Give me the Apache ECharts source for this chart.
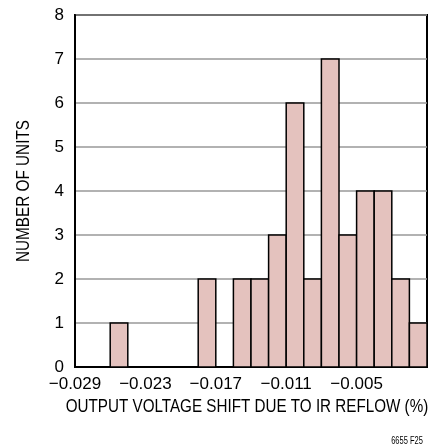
<!DOCTYPE html>
<html>
<head>
<meta charset="utf-8">
<script src="https://cdn.jsdelivr.net/npm/echarts@6/dist/echarts.min.js"></script>
<style>
  html, body { margin: 0; padding: 0; background: #fff; }
  #chart { width: 437px; height: 445px; }
</style>
</head>
<body>
<div id="chart"></div>
<script>
// histogram bins (lower edge, width 0.0015) and counts
var binStarts = [-0.029, -0.0275, -0.026, -0.0245, -0.023, -0.0215, -0.020, -0.0185, -0.017, -0.0155,
                 -0.014, -0.0125, -0.011, -0.0095, -0.008, -0.0065, -0.005, -0.0035, -0.002, -0.0005]
var binWidth = 0.0015
var counts = [0, 0, 1, 0, 0, 0, 0, 2, 0, 2, 2, 3, 6, 2, 7, 3, 4, 4, 2, 1]
var xTickValues = [-0.029, -0.023, -0.017, -0.011, -0.005]
var xTickLabels = ['\u22120.029', '\u22120.023', '\u22120.017', '\u22120.011', '\u22120.005']

var font = '"Liberation Sans", Arial, sans-serif'

var data = []
binStarts.forEach(function (x, i) {
    if (counts[i] > 0) data.push([x, x + binWidth, counts[i]])
})

var myChart = echarts.init(document.getElementById('chart'))
var options = {
    animation: false,
    grid: {
        left: 75, right: 10, top: 15, bottom: 78,
        outerBoundsMode: 'none',
        show: true, borderColor: '#000', borderWidth: 2
    },
    xAxis: {
        type: 'value',
        min: -0.029,
        max: 0.001,
        axisLine: { onZero: false, lineStyle: { color: '#000', width: 2 } },
        axisTick: { show: false },
        splitLine: { show: false },
        axisLabel: {
            customValues: xTickValues,
            fontFamily: font, fontSize: 17, color: '#000', margin: 9,
            formatter: function (v) {
                var i = xTickValues.findIndex(function (t) { return Math.abs(t - v) < 1e-9 })
                return i >= 0 ? xTickLabels[i] : ''
            }
        }
    },
    yAxis: {
        type: 'value',
        min: 0,
        max: 8,
        interval: 1,
        axisLine: { show: true, onZero: false, lineStyle: { color: '#000', width: 2 } },
        axisTick: { show: false },
        axisLabel: { fontFamily: font, fontSize: 17, color: '#000', margin: 11 },
        splitLine: { lineStyle: { color: '#999', width: 1.5 } }
    },
    // axis titles in a condensed look: real text, squeezed along its direction
    graphic: [{
        type: 'text',
        x: 247, y: 407,
        scaleX: 0.845,
        style: {
            text: 'OUTPUT VOLTAGE SHIFT DUE TO IR REFLOW (%)',
            fontFamily: font, fontSize: 18, fill: '#000',
            align: 'center', verticalAlign: 'middle'
        }
    }, {
        type: 'text',
        x: 24, y: 191,
        rotation: Math.PI / 2,
        scaleX: 0.85,
        style: {
            text: 'NUMBER OF UNITS',
            fontFamily: font, fontSize: 18, fill: '#000',
            align: 'center', verticalAlign: 'middle'
        }
    }, {
        type: 'text',
        x: 407, y: 441,
        scaleX: 0.75,
        style: {
            text: '6655 F25',
            fontFamily: font, fontSize: 10, fill: '#000',
            align: 'center', verticalAlign: 'middle'
        }
    }],
    series: [{
        type: 'custom',
        encode: { x: [0, 1], y: 2 },
        data: data,
        renderItem: function (params, api) {
            var p0 = api.coord([api.value(0), api.value(2)])
            var p1 = api.coord([api.value(1), 0])
            return {
                type: 'rect',
                shape: { x: p0[0], y: p0[1], width: p1[0] - p0[0], height: p1[1] - p0[1] },
                style: { fill: '#e4c2be', stroke: '#000', lineWidth: 1.5 }
            }
        }
    }]
}
myChart.setOption(options)
</script>
</body>
</html>
